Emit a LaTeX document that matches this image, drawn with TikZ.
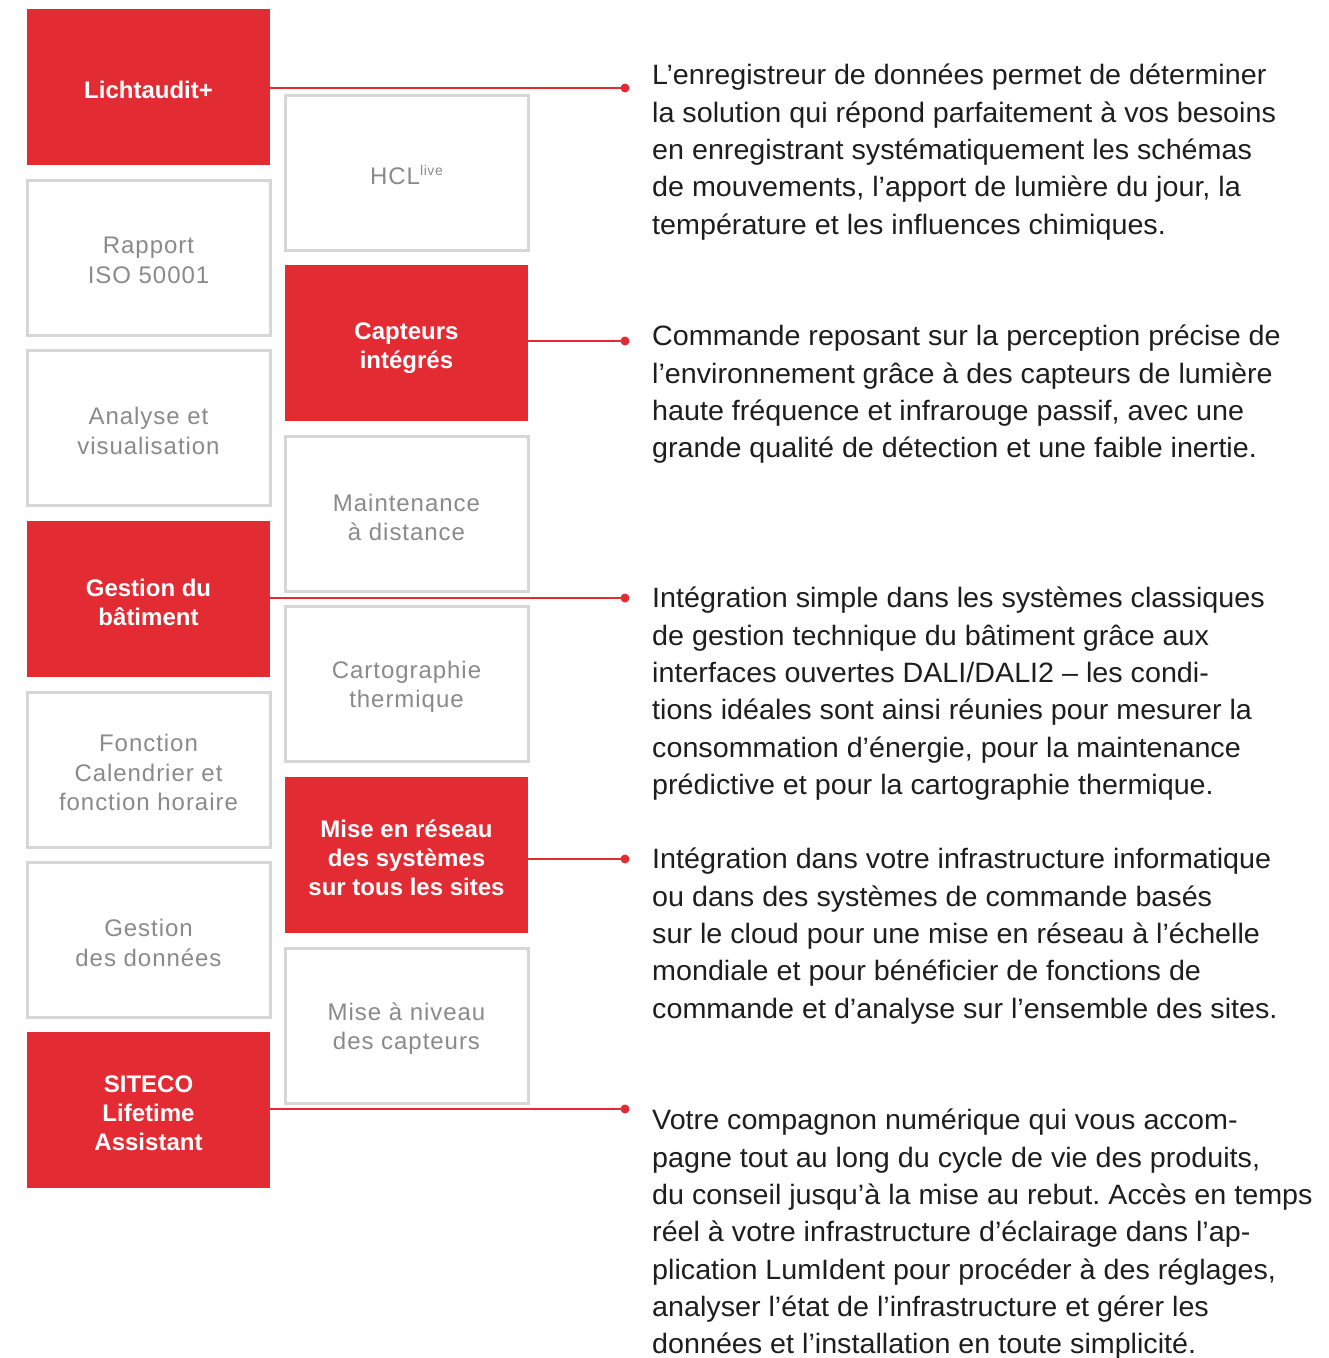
\documentclass[tikz,border=0pt]{standalone}
\usepackage{fontspec}
\setmainfont{Liberation Sans}
\newfontfamily\descfont[FakeStretch=1.025]{Liberation Sans}
\newfontfamily\grayfont[LetterSpace=4]{Liberation Sans}
\definecolor{sred}{HTML}{E32B33}
\definecolor{boxgray}{HTML}{D6D6D6}
\definecolor{txtgray}{HTML}{8A8A8A}
\definecolor{desc}{HTML}{1E1E1E}
\frenchspacing
\begin{document}
\begin{tikzpicture}[x=1pt,y=-1pt,
  redbox/.style={fill=sred, draw=none, minimum width=243pt, minimum height=156pt, inner sep=0pt},
  greybox/.style={draw=boxgray, line width=3pt, fill=white, minimum width=243pt, minimum height=155pt, inner sep=0pt},
  redlab/.style={inner sep=0pt, yshift=-3pt, font=\fontsize{24}{29}\selectfont\bfseries, text=white, align=center},
  greylab/.style={inner sep=0pt, yshift=-3pt, font=\grayfont\fontsize{24}{29.5}\selectfont, text=txtgray, align=center},
  desctext/.style={anchor=north west, inner sep=0pt, align=left, text=desc,
    font=\descfont\fontsize{28}{37.3}\selectfont},
  link/.style={draw=sred, line width=2pt},
  dot/.style={fill=sred, circle, inner sep=0pt, minimum size=9pt}]
\fill[white] (0,0) rectangle (1329,1358);
\useasboundingbox (0,0) rectangle (1329,1358);
% left column
\node[redbox, label={[redlab]center:Lichtaudit+}]  (L1) at (148.5,87) {};
\node[greybox, label={[greylab]center:Rapport\\ISO 50001}] (L2) at (148.5,257.5) {};
\node[greybox, label={[greylab]center:Analyse et\\visualisation}] (L3) at (148.5,428) {};
\node[redbox, label={[redlab]center:Gestion du\\bâtiment}]  (L4) at (148.5,599) {};
\node[greybox, label={[greylab]center:Fonction\\Calendrier et\\fonction horaire}] (L5) at (148.5,769.5) {};
\node[greybox, label={[greylab]center:Gestion\\des données}] (L6) at (148.5,940) {};
\node[redbox, label={[redlab]center:SITECO\\Lifetime\\Assistant}]  (L7) at (148.5,1110) {};
% right column
\node[greybox, label={[greylab]center:HCL\raisebox{9pt}{\fontsize{14}{14}\selectfont live}}] (R1) at (406.5,172.5) {};
\node[redbox, label={[redlab, yshift=-3pt]center:Capteurs\\intégrés}] (R2) at (406.5,342.5) {};
\node[greybox, label={[greylab, yshift=-1pt]center:Maintenance\\à distance}] (R3) at (406.5,513.5) {};
\node[greybox, label={[greylab]center:Cartographie\\thermique}] (R4) at (406.5,684) {};
\node[redbox, label={[redlab]center:Mise en réseau\\des systèmes\\sur tous les sites}] (R5) at (406.5,854.5) {};
\node[greybox, label={[greylab]center:Mise à niveau\\des capteurs}] (R6) at (406.5,1025.5) {};
% dots
\node[dot] (D1) at (625,88) {};
\node[dot] (D2) at (625,341) {};
\node[dot] (D3) at (625,598) {};
\node[dot] (D4) at (625,859) {};
\node[dot] (D5) at (625,1109) {};
\draw[link] (L1.east |- D1) -- (D1.center);
\draw[link] (R2.east |- D2) -- (D2.center);
\draw[link] (L4.east |- D3) -- (D3.center);
\draw[link] (R5.east |- D4) -- (D4.center);
\draw[link] (L7.east |- D5) -- (D5.center);
% descriptions
\node[desctext] (T1) at (652,64) {L’enregistreur de données permet de déterminer\\la solution qui répond parfaitement à vos besoins\\en enregistrant systématiquement les schémas\\de mouvements, l’apport de lumière du jour, la\\température et les influences chimiques.};
\node[desctext] (T2) at (652,325) {Commande reposant sur la perception précise de\\l’environnement grâce à des capteurs de lumière\\haute fréquence et infrarouge passif, avec une\\grande qualité de détection et une faible inertie.};
\node[desctext] (T3) at (652,587) {Intégration simple dans les systèmes classiques\\de gestion technique du bâtiment grâce aux\\interfaces ouvertes DALI/DALI2 – les condi-\\tions idéales sont ainsi réunies pour mesurer la\\consommation d’énergie, pour la maintenance\\prédictive et pour la cartographie thermique.};
\node[desctext] (T4) at (652,848) {Intégration dans votre infrastructure informatique\\ou dans des systèmes de commande basés\\sur le cloud pour une mise en réseau à l’échelle\\mondiale et pour bénéficier de fonctions de\\commande et d’analyse sur l’ensemble des sites.};
\node[desctext] (T5) at (652,1109) {Votre compagnon numérique qui vous accom-\\pagne tout au long du cycle de vie des produits,\\du conseil jusqu’à la mise au rebut. Accès en temps\\réel à votre infrastructure d’éclairage dans l’ap-\\plication LumIdent pour procéder à des réglages,\\analyser l’état de l’infrastructure et gérer les\\données et l’installation en toute simplicité.};
\end{tikzpicture}
\end{document}
